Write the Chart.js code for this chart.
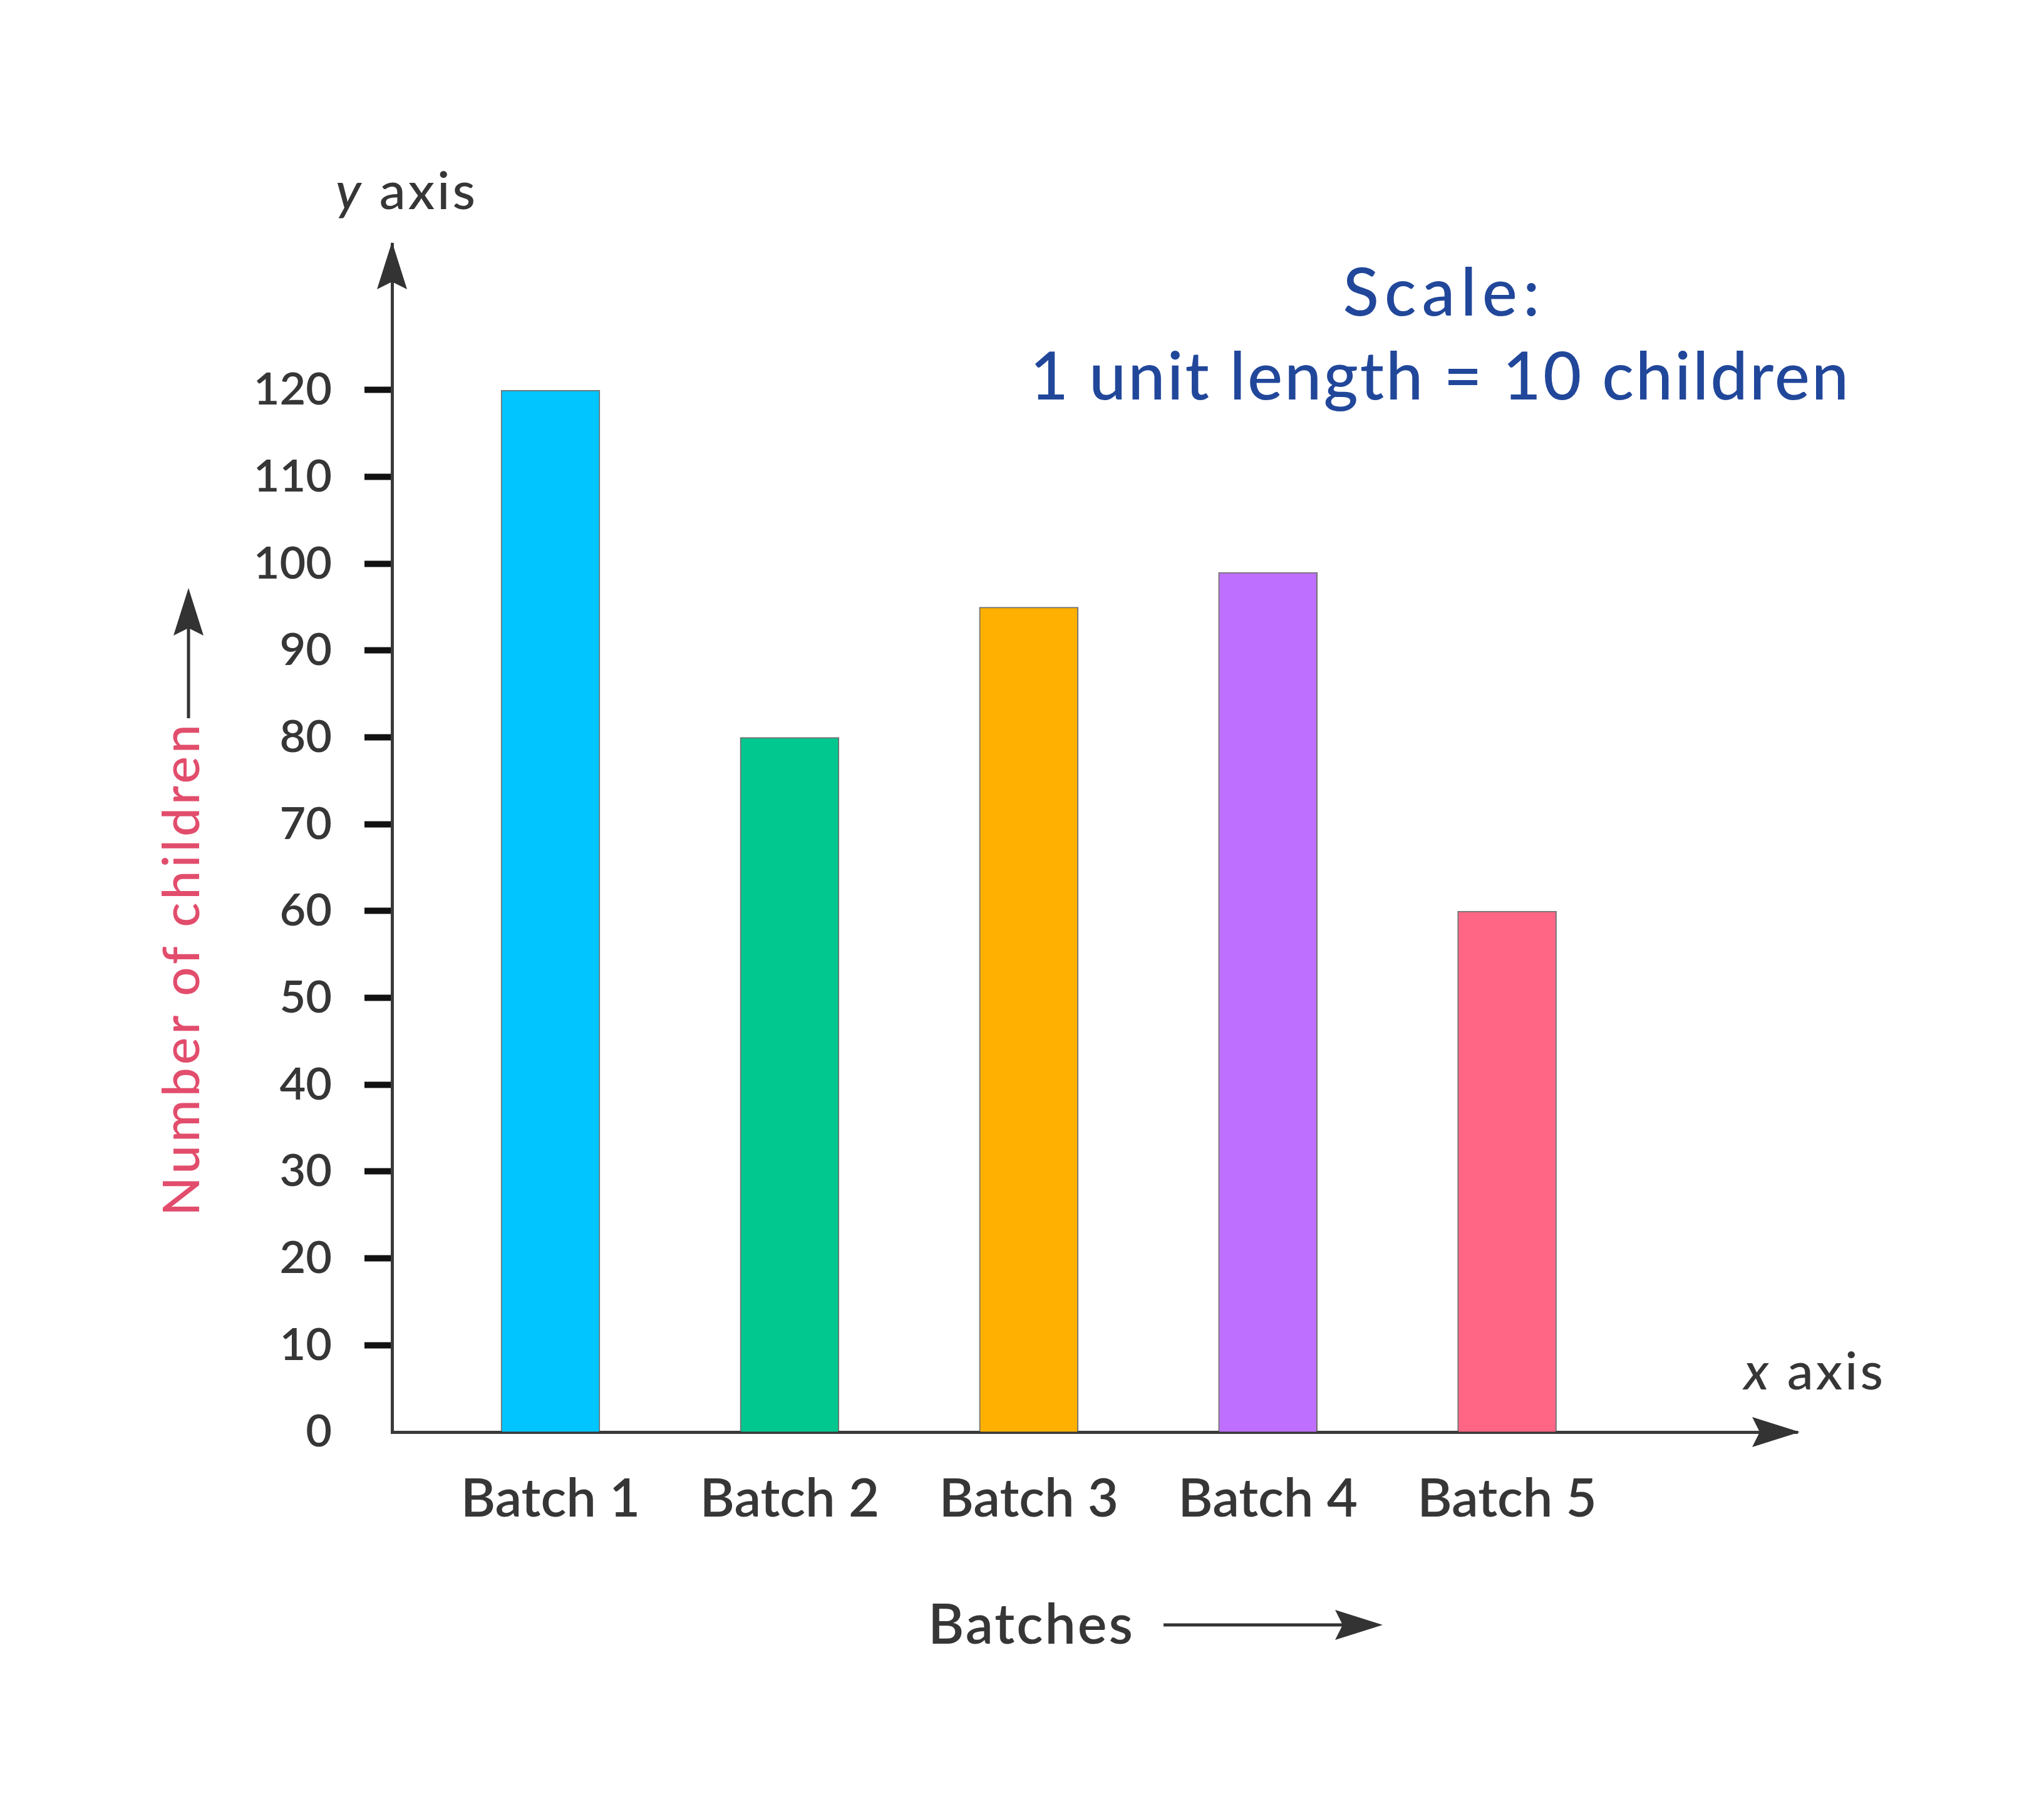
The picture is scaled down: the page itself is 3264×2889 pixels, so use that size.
<!DOCTYPE html>
<html>
<head>
<meta charset="utf-8">
<script src="https://cdn.jsdelivr.net/npm/chart.js@4.4.1/dist/chart.umd.min.js"></script>
<style>
  html, body { margin: 0; padding: 0; background: #ffffff; }
  #wrap { width: 3264px; height: 2889px; }
</style>
</head>
<body>
<div id="wrap"><canvas id="c" width="3264" height="2889"></canvas></div>
<script>
// ---- data ----
const categories = ['Batch 1', 'Batch 2', 'Batch 3', 'Batch 4', 'Batch 5'];
const children = [120, 80, 95, 99, 60];
const yTicks = [0, 10, 20, 30, 40, 50, 60, 70, 80, 90, 100, 110, 120];
const yAxisName = 'Number of children';
const xAxisName = 'Batches';
const scaleLines = ['Scale:', '1 unit length = 10 children'];

// ---- style ----
const barColors = ['#00C5FF', '#00C88E', '#FFB000', '#BF6FFF', '#FF6584'];
const FONT = 'Lato, "Open Sans", "Noto Sans", sans-serif';
const DARK = '#363636';

function arrowHead(ctx, x, y, ang) {
  const len = 76, half = 24, notch = 12;
  ctx.save();
  ctx.translate(x, y);
  ctx.rotate(ang);
  ctx.beginPath();
  ctx.moveTo(0, 0);
  ctx.lineTo(-len, -half);
  ctx.lineTo(-len + notch, 0);
  ctx.lineTo(-len, half);
  ctx.closePath();
  ctx.fill();
  ctx.restore();
}

function mixedText(ctx, parts, x, y, spacing) {
  let cx = x;
  ctx.letterSpacing = spacing + 'px';
  for (const [t, font] of parts) {
    ctx.font = font;
    ctx.fillText(t, cx, y);
    cx += ctx.measureText(t).width;
  }
}

const annotations = {
  id: 'annotations',
  afterDraw(chart) {
    const { ctx, chartArea: ca } = chart;
    ctx.save();
    ctx.fillStyle = '#333333';
    ctx.strokeStyle = '#333333';
    // axis arrowheads
    arrowHead(ctx, ca.left, ca.top - 4, -Math.PI / 2);
    arrowHead(ctx, ca.right + 4, ca.bottom, 0);

    ctx.textAlign = 'left';
    ctx.textBaseline = 'alphabetic';
    ctx.fillStyle = DARK;
    // "y axis"
    mixedText(ctx, [['y', 'italic 500 84px ' + FONT], [' axis', '500 84px ' + FONT]], ca.left - 90, ca.top - 56, 4);
    // "x axis"
    mixedText(ctx, [['x', 'italic 500 84px ' + FONT], [' axis', '500 84px ' + FONT]], ca.right - 85, ca.bottom - 68, 4);

    // Scale note
    ctx.fillStyle = '#21479A';
    ctx.textAlign = 'center';
    ctx.font = '500 106px ' + FONT;
    ctx.letterSpacing = '9px';
    ctx.fillText(scaleLines[0], 2306, 504);
    ctx.letterSpacing = '3px';
    ctx.fillText(scaleLines[1], 2300, 638);

    // y axis title (rotated) with arrow
    ctx.save();
    ctx.translate(318, 1547);
    ctx.rotate(-Math.PI / 2);
    ctx.fillStyle = '#E24D6C';
    ctx.textAlign = 'center';
    ctx.letterSpacing = '5px';
    ctx.font = '500 82px ' + FONT;
    ctx.fillText(yAxisName, 0, 0);
    ctx.restore();
    ctx.fillStyle = '#333333';
    ctx.lineWidth = 5;
    ctx.beginPath();
    ctx.moveTo(301, 1147);
    ctx.lineTo(301, 960);
    ctx.stroke();
    arrowHead(ctx, 301, 939, -Math.PI / 2);

    // x axis title with arrow
    ctx.fillStyle = DARK;
    ctx.textAlign = 'left';
    ctx.letterSpacing = '3px';
    ctx.font = '600 88px ' + FONT;
    ctx.fillText(xAxisName, 1482, 2625);
    ctx.fillStyle = '#333333';
    ctx.beginPath();
    ctx.moveTo(1858, 2595);
    ctx.lineTo(2190, 2595);
    ctx.stroke();
    arrowHead(ctx, 2208, 2595, 0);
    ctx.restore();
  }
};

new Chart(document.getElementById('c'), {
  type: 'bar',
  data: {
    datasets: [{
      data: categories.map((c, i) => ({ x: i + 1, y: children[i] })),
      backgroundColor: barColors,
      borderColor: 'rgba(90,90,90,0.85)',
      borderWidth: 2,
      barThickness: 158
    }]
  },
  options: {
    responsive: false,
    devicePixelRatio: 1,
    animation: false,
    layout: { padding: { left: 0, top: 390, right: 394, bottom: 0 } },
    plugins: { legend: { display: false }, tooltip: { enabled: false } },
    scales: {
      x: {
        type: 'linear',
        offset: false,
        min: 0.3375,
        max: 6.2135,
        afterBuildTicks: s => { s.ticks = categories.map((c, i) => ({ value: i + 1 })); },
        afterFit: s => { s.height = 602; },
        grid: { display: false, offset: false },
        border: { display: true, color: '#3a3a3a', width: 5 },
        ticks: {
          autoSkip: false,
          maxRotation: 0,
          padding: 49,
          color: DARK,
          font: { family: FONT, size: 85, weight: '600' },
          callback: v => categories[Math.round(v) - 1] || ''
        }
      },
      y: {
        type: 'linear',
        min: 0,
        max: 136.8,
        afterBuildTicks: s => { s.ticks = yTicks.map(v => ({ value: v })); },
        afterFit: s => { s.width = 626; },
        grid: {
          display: true,
          drawOnChartArea: false,
          drawTicks: true,
          tickLength: 44,
          tickWidth: 10,
          tickColor: ctx => (ctx.tick && ctx.tick.value === 0) ? 'rgba(0,0,0,0)' : '#111111'
        },
        border: { display: true, color: '#3a3a3a', width: 5 },
        ticks: {
          padding: 52,
          color: DARK,
          font: { family: FONT, size: 72, weight: '600' }
        }
      }
    }
  },
  plugins: [annotations]
});
</script>
</body>
</html>
